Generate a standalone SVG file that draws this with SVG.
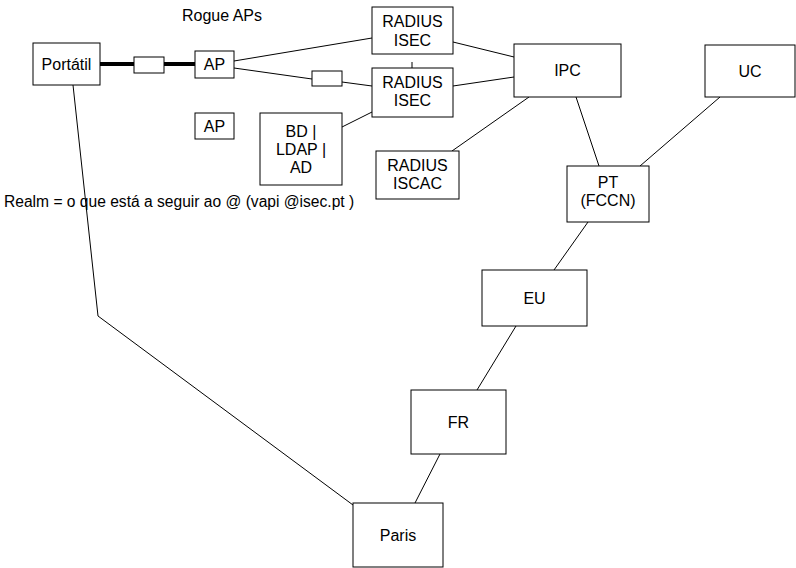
<svg xmlns="http://www.w3.org/2000/svg" width="796" height="568" viewBox="0 0 796 568">
<style>
.n{fill:#fff;stroke:#000;stroke-width:1}
.t{font-family:"Liberation Sans",Arial,sans-serif;font-size:16px;fill:#000;text-anchor:middle}
.e{fill:none;stroke:#000;stroke-width:1}
.k{fill:none;stroke:#000;stroke-width:4}
</style>
<rect width="796" height="568" fill="#fff"/>
<g id="connectors">
<line class="k" x1="100" y1="64" x2="195" y2="64"/>
<circle cx="101" cy="64" r="2" fill="#000"/>
<line class="e" x1="234" y1="61" x2="372" y2="38"/>
<polyline class="e" points="234,68 312,79"/>
<polyline class="e" points="342,82 372,86"/>
<line class="e" x1="412" y1="62" x2="412" y2="68"/>
<line class="e" x1="342" y1="127" x2="372" y2="112"/>
<line class="e" x1="453" y1="42" x2="514" y2="57"/>
<line class="e" x1="453" y1="86" x2="514" y2="77"/>
<line class="e" x1="452" y1="151" x2="529" y2="97"/>
<line class="e" x1="576" y1="97" x2="599" y2="166"/>
<line class="e" x1="720" y1="97" x2="640" y2="166"/>
<line class="e" x1="588" y1="222" x2="554" y2="270"/>
<line class="e" x1="516" y1="326" x2="477" y2="390"/>
<line class="e" x1="440" y1="454" x2="415" y2="503"/>
<polyline class="e" points="73,85 98,316 353,505"/>
</g>
<g id="rogue-label"><text class="t" x="222" y="21">Rogue APs</text></g>
<g id="realm-label"><text class="t" x="4" y="207" style="text-anchor:start;font-size:15.6px">Realm = o que está a seguir ao @ (vapi @isec.pt )</text></g>
<g id="portatil"><rect class="n" x="33" y="43" width="67" height="42"/><text class="t" x="66.5" y="70">Portátil</text></g>
<g id="link-box1"><rect class="n" x="134" y="57" width="30" height="16"/></g>
<g id="ap1"><rect class="n" x="195" y="51" width="39" height="27"/><text class="t" x="214.5" y="70">AP</text></g>
<g id="ap2"><rect class="n" x="195" y="113" width="39" height="26"/><text class="t" x="214.5" y="132">AP</text></g>
<g id="link-box2"><rect class="n" x="312" y="71" width="30" height="15"/></g>
<g id="radius-isec1"><rect class="n" x="372" y="7" width="81" height="47"/><text class="t" x="412.5" y="27">RADIUS</text><text class="t" x="412.5" y="46">ISEC</text></g>
<g id="radius-isec2"><rect class="n" x="372" y="68" width="81" height="49"/><text class="t" x="412.5" y="88">RADIUS</text><text class="t" x="412.5" y="106">ISEC</text></g>
<g id="bd"><rect class="n" x="260" y="113" width="82" height="72"/><text class="t" x="301" y="137">BD |</text><text class="t" x="301" y="155">LDAP |</text><text class="t" x="301" y="173">AD</text></g>
<g id="radius-iscac"><rect class="n" x="376" y="151" width="83" height="48"/><text class="t" x="417.5" y="171">RADIUS</text><text class="t" x="417.5" y="189">ISCAC</text></g>
<g id="ipc"><rect class="n" x="514" y="44" width="107" height="53"/><text class="t" x="567.5" y="76">IPC</text></g>
<g id="uc"><rect class="n" x="705" y="45" width="90" height="52"/><text class="t" x="750" y="77">UC</text></g>
<g id="pt"><rect class="n" x="567" y="166" width="82" height="56"/><text class="t" x="608" y="188">PT</text><text class="t" x="608" y="206">(FCCN)</text></g>
<g id="eu"><rect class="n" x="482" y="270" width="105" height="56"/><text class="t" x="534.5" y="304">EU</text></g>
<g id="fr"><rect class="n" x="411" y="390" width="95" height="64"/><text class="t" x="458.5" y="428">FR</text></g>
<g id="paris"><rect class="n" x="353" y="503" width="90" height="64"/><text class="t" x="398" y="541">Paris</text></g>
</svg>
